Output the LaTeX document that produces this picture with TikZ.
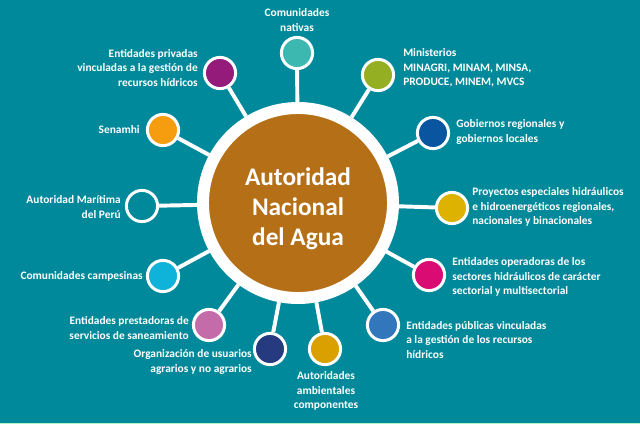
\documentclass[tikz,border=0pt]{standalone}
\usepackage{fontspec}
\setmainfont{Carlito}
\definecolor{fondo}{HTML}{00899A}
\definecolor{cafe}{HTML}{B56F16}
\definecolor{c1}{HTML}{3DB8B1}
\definecolor{c2}{HTML}{951B7A}
\definecolor{c3}{HTML}{F59D0E}
\definecolor{c4}{HTML}{0FB3D9}
\definecolor{c5}{HTML}{C46CAA}
\definecolor{c6}{HTML}{263A80}
\definecolor{c7}{HTML}{D9A000}
\definecolor{c8}{HTML}{3277BC}
\definecolor{c9}{HTML}{DA0B72}
\definecolor{c10}{HTML}{DDB200}
\definecolor{c11}{HTML}{0A55A0}
\definecolor{c12}{HTML}{95AF22}
\tikzset{
  bola/.style={circle, draw=white, line width=2.1pt, minimum size=0.78cm, inner sep=0pt},
  lbl/.style={text=white, inner sep=0pt, font=\fontsize{8.1}{10.2}\selectfont\bfseries},
  rayo/.style={white, line width=2.8pt}
}
\begin{document}
\begin{tikzpicture}[x=0.025cm, y=-0.025cm]
\fill[fondo] (0,0) rectangle (640,424);
\fill[fondo!40!green!30!white] (0,422.8) rectangle (640,424);

% centro
\node[circle, fill=cafe, draw=white, line width=8.5pt, minimum size=4.75cm] (ana) at (298,203) {};
\node[text=white, align=center, font=\fontsize{18}{21.3}\selectfont\bfseries] (tana) at (298,209) {Autoridad\\Nacional\\del Agua};

% entidades
\node[bola, fill=c1] (nat) at (297,53) {};
\node[bola, fill=c2] (priv) at (220,73) {};
\node[bola, fill=c3] (sen) at (163,130) {};
\node[bola, fill=fondo] (mar) at (142,206) {};
\node[bola, fill=c4] (camp) at (163,276) {};
\node[bola, fill=c5] (prest) at (209,325) {};
\node[bola, fill=c6] (usu) at (270,349) {};
\node[bola, fill=c7] (amb) at (325,349) {};
\node[bola, fill=c8] (pub) at (383,325) {};
\node[bola, fill=c9] (oper) at (429,275) {};
\node[bola, fill=c10] (proy) at (452,208) {};
\node[bola, fill=c11] (gob) at (433,133) {};
\node[bola, fill=c12] (min) at (378,75) {};

\draw[rayo] (ana) -- (nat);
\draw[rayo] (ana) -- (priv);
\draw[rayo] (ana) -- (sen);
\draw[rayo] (ana) -- (mar);
\draw[rayo] (ana) -- (camp);
\draw[rayo] (ana) -- (prest);
\draw[rayo] (ana) -- (usu);
\draw[rayo] (ana) -- (amb);
\draw[rayo] (ana) -- (pub);
\draw[rayo] (ana) -- (oper);
\draw[rayo] (ana) -- (proy);
\draw[rayo] (ana) -- (gob);
\draw[rayo] (ana) -- (min);

% textos
\node[lbl, align=center] (tnat) at (297,20) {Comunidades\\nativas};
\node[lbl, align=right, anchor=east] (tpriv) at (198,68) {Entidades privadas\\vinculadas a la gestión de\\recursos hídricos};
\node[lbl, anchor=east] (tsen) at (140,130) {Senamhi};
\node[lbl, align=right, anchor=east] (tmar) at (121,207) {Autoridad Marítima\\del Perú};
\node[lbl, anchor=east] (tcamp) at (143,276) {Comunidades campesinas};
\node[lbl, align=right, anchor=east] (tprest) at (189,328) {Entidades prestadoras de\\servicios de saneamiento};
\node[lbl, align=right, anchor=east] (tusu) at (252,362) {Organización de usuarios\\agrarios y no agrarios};
\node[lbl, align=center] (tamb) at (326,391) {Autoridades\\ambientales\\componentes};
\node[lbl, align=left, anchor=west] (tpub) at (406,340) {Entidades públicas vinculadas\\a la gestión de los recursos\\hídricos};
\node[lbl, align=left, anchor=west] (toper) at (452,277) {Entidades operadoras de los\\sectores hidráulicos de carácter\\sectorial y multisectorial};
\node[lbl, align=left, anchor=west] (tproy) at (472,207) {Proyectos especiales hidráulicos\\e hidroenergéticos regionales,\\nacionales y binacionales};
\node[lbl, align=left, anchor=west] (tgob) at (456,132) {Gobiernos regionales y\\gobiernos locales};
\node[lbl, align=left, anchor=west] (tmin) at (403,68) {Ministerios\\MINAGRI, MINAM, MINSA,\\PRODUCE, MINEM, MVCS};
\end{tikzpicture}
\end{document}
